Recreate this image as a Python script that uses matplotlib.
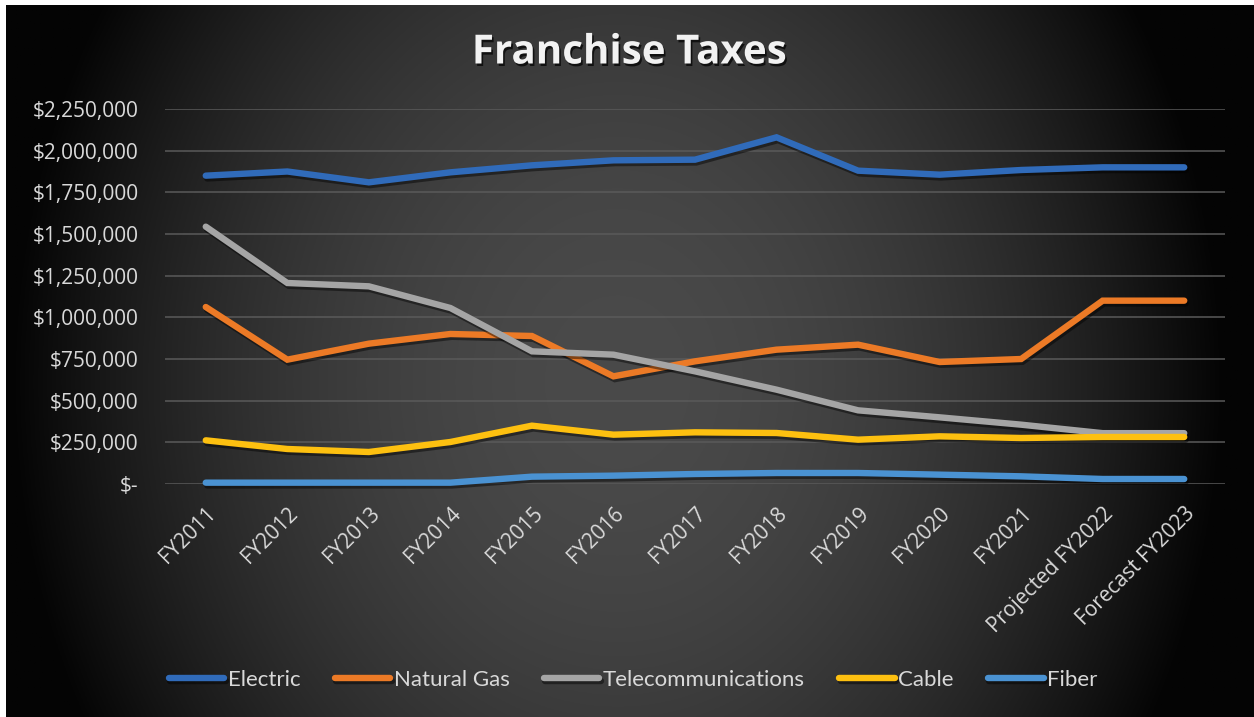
import numpy as np
import matplotlib
matplotlib.use("Agg")
import matplotlib.pyplot as plt
import matplotlib.patheffects as pe
from matplotlib.ticker import FuncFormatter

years = ["FY2011", "FY2012", "FY2013", "FY2014", "FY2015", "FY2016", "FY2017",
         "FY2018", "FY2019", "FY2020", "FY2021", "Projected FY2022", "Forecast FY2023"]

electric = [1850000, 1875000, 1810000, 1870000, 1912000, 1942000, 1946000,
            2080000, 1880000, 1856000, 1884000, 1900000, 1900000]
natural_gas = [1062000, 746000, 842000, 900000, 888000, 646000, 736000,
               806000, 836000, 732000, 750000, 1100000, 1100000]
telecom = [1544000, 1206000, 1186000, 1056000, 796000, 776000, 676000,
           566000, 442000, 400000, 356000, 305000, 305000]
cable = [262000, 210000, 192000, 252000, 350000, 296000, 310000,
         306000, 266000, 286000, 276000, 282000, 282000]
fiber = [8000, 8000, 8000, 8000, 44000, 50000, 60000,
         66000, 66000, 56000, 46000, 30000, 30000]

series = [
    ("Electric", electric, "#306BBA"),
    ("Natural Gas", natural_gas, "#EC7A26"),
    ("Telecommunications", telecom, "#A5A5A5"),
    ("Cable", cable, "#FDC010"),
    ("Fiber", fiber, "#4A92D2"),
]

TXT = "#D9D9D9"
W, H = 1254, 717

fig = plt.figure(figsize=(W / 100, H / 100), dpi=100, facecolor="white")

# dark radial backdrop
bg = fig.add_axes([6 / W, 0, (W - 6) / W, (H - 5) / H], zorder=-10)
gx, gy = np.meshgrid(np.linspace(0, 1, 600), np.linspace(0, 1, 400))
d2 = ((gx - 0.49) / 0.5) ** 2 + ((gy - 0.47) / 1.05) ** 2
shade = np.clip(74 * (1 - d2), 4, None) / 255.0
bg.imshow(np.dstack([shade] * 3), extent=[0, 1, 0, 1], aspect="auto", origin="lower")
bg.axis("off")

ax = fig.add_axes([165 / W, 1 - 484 / H, (1225 - 165) / W, (484 - 109) / H])
ax.patch.set_alpha(0)
x = np.arange(len(years))

shadow = [pe.SimpleLineShadow(offset=(1, -2), shadow_color="black", alpha=0.45),
          pe.Normal()]
for name, vals, col in series:
    ax.plot(x, vals, color=col, lw=4.6, solid_capstyle="round", solid_joinstyle="miter",
            label=name, clip_on=False, path_effects=shadow, zorder=3)

ax.set_xlim(-0.5, len(years) - 0.5)
ax.set_ylim(0, 2250000)
ax.set_yticks(np.arange(0, 2250001, 250000))
ax.yaxis.set_major_formatter(FuncFormatter(lambda v, _: "$-" if v == 0 else f"${v:,.0f}"))
ax.grid(axis="y", color="#5A5A5A", lw=1.1)
ax.set_axisbelow(True)
for s in ax.spines.values():
    s.set_visible(False)
ax.tick_params(axis="y", length=0, pad=19, labelsize=15, labelcolor=TXT)
ax.tick_params(axis="x", length=0, pad=14, labelsize=15, labelcolor=TXT)
ax.set_xticks(x)
ax.set_xticklabels(years, rotation=45, ha="right", rotation_mode="anchor")
for lbl in ax.get_xticklabels() + ax.get_yticklabels():
    lbl.set_family("Open Sans")

fig.text(629 / W, 1 - 53 / H, "Franchise Taxes", ha="center", va="center",
         color="#F2F2F2", fontsize=29, fontweight="bold", family="Open Sans",
         path_effects=[pe.withSimplePatchShadow(offset=(1.2, -1.8), shadow_rgbFace="black", alpha=0.7)])

leg = fig.legend(loc="center", bbox_to_anchor=(633 / W, 1 - 680 / H), ncol=5, frameon=False,
                 handlelength=2.5, handletextpad=0.15, columnspacing=1.55,
                 prop={"family": "Lato", "size": 16})
for t in leg.get_texts():
    t.set_color(TXT)
for h in leg.get_lines():
    h.set_linewidth(4.6)
    h.set_solid_capstyle("round")

fig.savefig("out.png", dpi=100, facecolor="white")
